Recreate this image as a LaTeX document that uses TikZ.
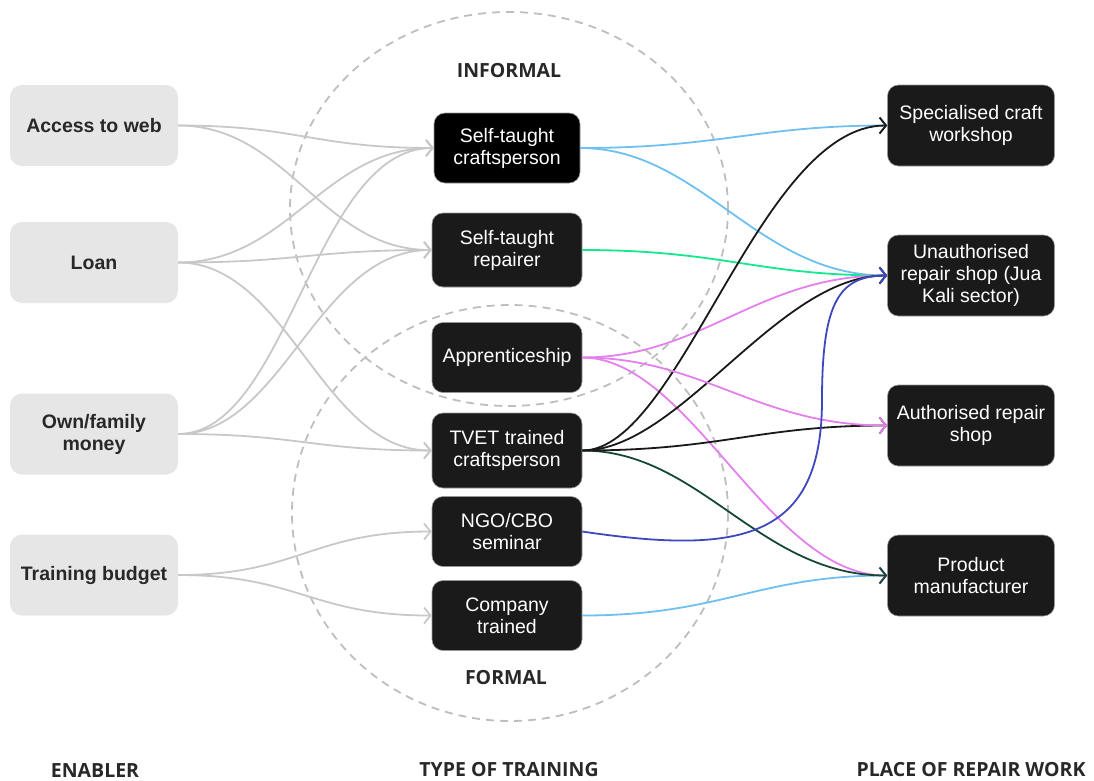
\documentclass[tikz,border=0pt]{standalone}
\usepackage{fontspec}
\setmainfont{Liberation Sans}
\newfontfamily\headfont{Open Sans}
\usetikzlibrary{arrows.meta}

\definecolor{enablerfill}{RGB}{230,230,230}
\definecolor{textdark}{RGB}{40,40,40}
\definecolor{nodedark}{RGB}{26,26,26}
\definecolor{nodeedge}{RGB}{150,150,150}
\definecolor{headtext}{RGB}{40,40,40}
\definecolor{feedgray}{RGB}{200,200,200}
\definecolor{zonegray}{RGB}{190,190,190}
\definecolor{skyline}{RGB}{110,192,240}
\definecolor{mint}{RGB}{20,232,140}
\definecolor{orchid}{RGB}{228,128,238}
\definecolor{ink}{RGB}{25,25,25}
\definecolor{pine}{RGB}{22,72,56}
\definecolor{indigo}{RGB}{62,72,190}

\begin{document}
\begin{tikzpicture}[x=1pt,y=-1pt,
  enabler/.style={fill=enablerfill, rounded corners=12pt, minimum width=168pt,
    minimum height=81pt, align=center, text=textdark, inner sep=0pt,
    font=\fontsize{19.5}{22}\selectfont\bfseries},
  training/.style={fill=nodedark, draw=nodeedge, line width=0.6pt,
    rounded corners=11pt, minimum width=150pt, minimum height=70pt,
    align=center, text=white, inner sep=0pt,
    font=\fontsize{19.5}{22}\selectfont},
  place/.style={training, minimum width=167pt, minimum height=81pt},
  heading/.style={font=\headfont\fontsize{19.5}{22}\selectfont\bfseries, text=headtext},
  feed/.style={draw=feedgray, line width=1.8pt,
    -{Straight Barb[length=6.5pt,width=16pt]}},
  link/.style={line width=1.8pt, -{Straight Barb[length=6.5pt,width=16pt]}},
  zone/.style={draw=zonegray, line width=1.8pt, dash pattern=on 8pt off 6pt}
]
\useasboundingbox (0,0) rectangle (1094,780);

% informal and formal zones
\draw[zone] (509,209) ellipse [x radius=219pt, y radius=197pt];
\draw[zone] (510,513) ellipse [x radius=218pt, y radius=208pt];
\node[heading] (informal) at (509,71) {INFORMAL};
\node[heading] (formal) at (506,678) {FORMAL};

% column headings
\node[heading] (hEnabler) at (95,770) {ENABLER};
\node[heading] (hType) at (509,770) {TYPE OF TRAINING};
\node[heading] (hPlace) at (971,770) {PLACE OF REPAIR WORK};

% enablers
\node[enabler] (web) at (94,125.5) {Access to web};
\node[enabler] (loan) at (94,262.5) {Loan};
\node[enabler] (own) at (94,434) {Own/family\\money};
\node[enabler] (budget) at (94,575) {Training budget};

% types of training
\node[training, fill=black, minimum width=146pt] (stc) at (507,148) {Self-taught\\craftsperson};
\node[training, minimum height=74pt] (str) at (507,250) {Self-taught\\repairer};
\node[training] (appr) at (507,357.5) {Apprenticeship};
\node[training, minimum height=75pt] (tvet) at (507,450.5) {TVET trained\\craftsperson};
\node[training] (ngo) at (507,531.5) {NGO/CBO\\seminar};
\node[training] (comp) at (507,615.5) {Company\\trained};

% places of repair work
\node[place] (spec) at (971,125.5) {Specialised craft\\workshop};
\node[place] (unauth) at (971,275.5) {Unauthorised\\repair shop (Jua\\Kali sector)};
\node[place] (auth) at (971,425.5) {Authorised repair\\shop};
\node[place] (prod) at (971,575.5) {Product\\manufacturer};

% enablers to training
\draw[feed] (web.east) .. controls +(120,0) and +(-120,0) .. (stc.west);
\draw[feed] (web.east) .. controls +(110,0) and +(-110,0) .. (str.west);
\draw[feed] (loan.east) .. controls +(110,0) and +(-110,0) .. (stc.west);
\draw[feed] (loan.east) .. controls +(120,0) and +(-120,0) .. (str.west);
\draw[feed] (loan.east) .. controls +(110,0) and +(-110,0) .. (tvet.west);
\draw[feed] (own.east) .. controls +(110,0) and +(-120,0) .. (stc.west);
\draw[feed] (own.east) .. controls +(105,0) and +(-115,0) .. (str.west);
\draw[feed] (own.east) .. controls +(120,0) and +(-120,0) .. (tvet.west);
\draw[feed] (budget.east) .. controls +(120,0) and +(-120,0) .. (ngo.west);
\draw[feed] (budget.east) .. controls +(120,0) and +(-120,0) .. (comp.west);

% training to places of repair work
\draw[link, skyline] (stc.east) .. controls +(140,0) and +(-130,0) .. (spec.west);
\draw[link, skyline] (stc.east) .. controls +(120,0) and +(-130,0) .. (unauth.west);
\draw[link, skyline] (comp.east) .. controls +(140,0) and +(-130,0) .. (prod.west);
\draw[link, mint] (str.east) .. controls +(140,0) and +(-130,0) .. (unauth.west);
\draw[link, orchid] (appr.east) .. controls +(120,0) and +(-130,0) .. (unauth.west);
\draw[link, orchid] (appr.east) .. controls +(108,0) and +(-118,0) .. (prod.west);
\draw[link, ink] (tvet.east) .. controls +(98,0) and +(-128,0) .. (spec.west);
\draw[link, ink] (tvet.east) .. controls +(98,0) and +(-110,0) .. (unauth.west);
\draw[link, pine] (tvet.east) .. controls +(118,0) and +(-128,0) .. (prod.west);
\draw[link, ink] (tvet.east) .. controls +(140,0) and +(-130,0) .. (auth.west);
\draw[link, orchid] (appr.east) .. controls +(120,0) and +(-130,0) .. (auth.west);
\draw[link, indigo] (ngo.east) .. controls (740,555) and (822,540) .. (822,400)
  .. controls (822,300) and (840,276) .. (unauth.west);
\end{tikzpicture}
\end{document}
